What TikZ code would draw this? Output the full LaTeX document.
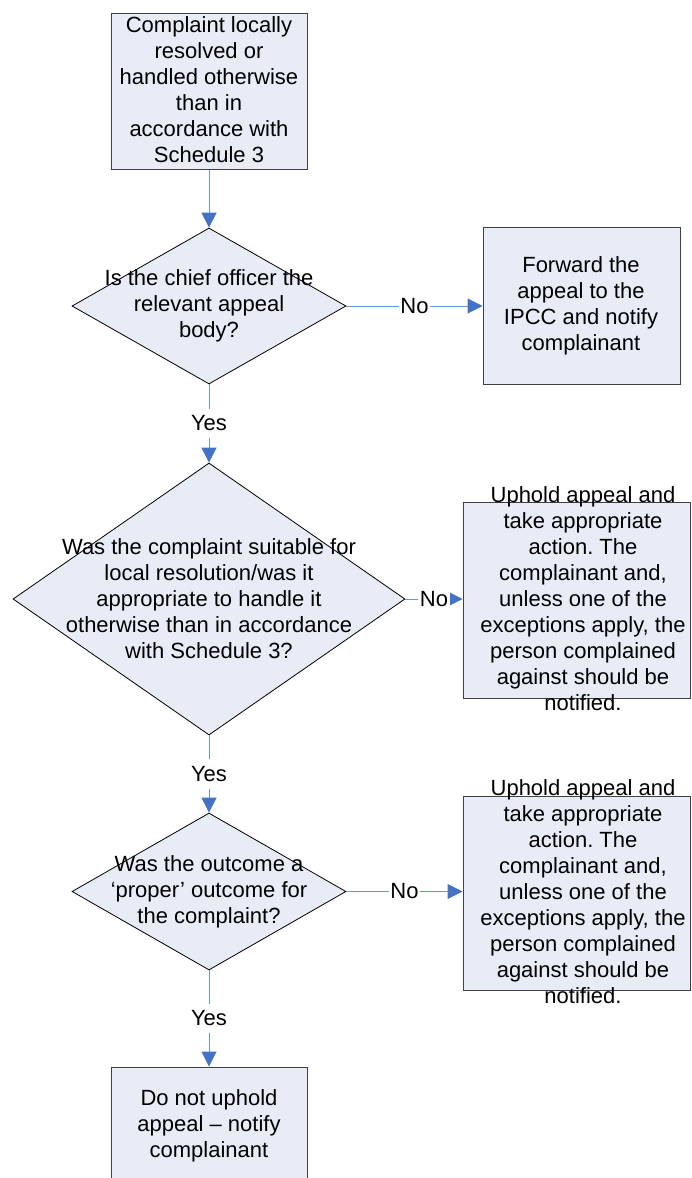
\documentclass[tikz,border=0pt]{standalone}
\usepackage{fontspec}
\setmainfont{Liberation Sans}
\usetikzlibrary{shapes.geometric,arrows.meta}
\definecolor{boxfill}{HTML}{E7ECF7}
\definecolor{boxline}{HTML}{404040}
\definecolor{conncol}{HTML}{6A96D4}
\definecolor{tipcol}{HTML}{4472C4}
\frenchspacing
\begin{document}
\begin{tikzpicture}[x=1pt,y=-1pt,
  txt/.style={font=\fontsize{22}{26}\selectfont, align=center, inner sep=0pt},
  proc/.style={draw=boxline, fill=boxfill, line width=1pt, inner sep=0pt},
  dec/.style={diamond, draw=black, fill=boxfill, line width=0.8pt, inner sep=0pt},
  conn/.style={draw=conncol, line width=1pt, -{Triangle[length=15pt,width=15pt,color=tipcol]}},
  lbl/.style={fill=white, font=\fontsize{22}{26}\selectfont, inner xsep=1.5pt, inner ysep=7pt}]
\clip (0,0) rectangle (691,1178);
\fill[white] (0,0) rectangle (691,1178);

% shapes
\node[proc, minimum width=196pt, minimum height=156pt] (b1) at (209,91) {};
\node[dec, minimum width=274pt, minimum height=156pt] (d1) at (209,306) {};
\node[proc, minimum width=197pt, minimum height=157pt] (b2) at (581.5,305.5) {};
\node[dec, minimum width=392pt, minimum height=272pt] (d2) at (209,599) {};
\node[proc, minimum width=227.5pt, minimum height=196pt] (b3) at (576.75,600) {};
\node[dec, minimum width=274pt, minimum height=157pt] (d3) at (209,891.5) {};
\node[proc, minimum width=227.5pt, minimum height=194pt] (b4) at (576.75,893) {};
\node[proc, minimum width=196pt, minimum height=118pt] (b5) at (209,1126) {};

% texts
\node[txt] (t1) at (209,90) {Complaint locally\\resolved or\\handled otherwise\\than in\\accordance with\\Schedule 3};
\node[txt] (t2) at (209,306) {Is the chief officer the\\relevant appeal\\body?};
\node[txt] (t3) at (581,306) {Forward the\\appeal to the\\IPCC and notify\\complainant};
\node[txt] (t4) at (209,599) {Was the complaint suitable for\\local resolution/was it\\appropriate to handle it\\otherwise than in accordance\\with Schedule 3?};
\node[txt] (t5) at (583,599) {Uphold appeal and\\take appropriate\\action. The\\complainant and,\\unless one of the\\exceptions apply, the\\person complained\\against should be\\notified.};
\node[txt] (t6) at (209,892) {Was the outcome a\\‘proper’ outcome for\\the complaint?};
\node[txt] (t7) at (583,892) {Uphold appeal and\\take appropriate\\action. The\\complainant and,\\unless one of the\\exceptions apply, the\\person complained\\against should be\\notified.};
\node[txt] (t8) at (209,1126) {Do not uphold\\appeal – notify\\complainant};

% connectors
\draw[conn] (b1.south) -- (d1.north);
\draw[conn] (d1.east) -- node[lbl] {No} (d1.east -| b2.west);
\draw[conn] (d1.south) -- node[lbl] {Yes} (d2.north);
\draw[conn] (d2.east) -- node[lbl] {No} (d2.east -| b3.west);
\draw[conn] (d2.south) -- node[lbl] {Yes} (d3.north);
\draw[conn] (d3.east) -- node[lbl] {No} (d3.east -| b4.west);
\draw[conn] (d3.south) -- node[lbl] {Yes} (b5.north);
\end{tikzpicture}
\end{document}
